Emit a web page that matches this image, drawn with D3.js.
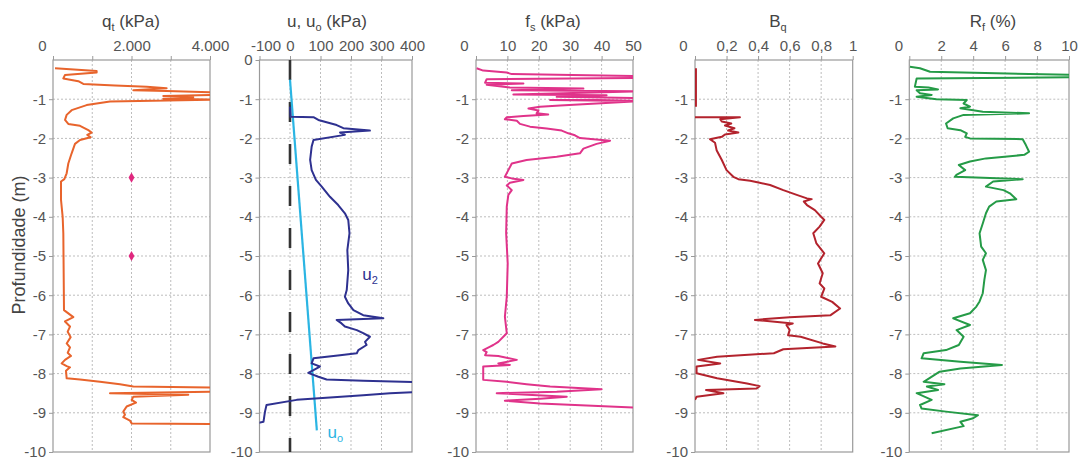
<!DOCTYPE html>
<html>
<head>
<meta charset="utf-8">
<script src="https://cdn.jsdelivr.net/npm/d3@7"></script>
<style>
  body { margin: 0; background: #fff; }
  svg { font-family: "Liberation Sans", Arial, sans-serif; }
</style>
</head>
<body>
<svg id="chart" width="1082" height="462"></svg>
<script>
// profiles as [depth (m), value] pairs
const qt = [
  [-0.21, 51], [-0.28, 1112], [-0.32, 1112], [-0.38, 306], [-0.47, 263], [-0.54, 645], [-0.61, 773],
  [-0.65, 1579], [-0.68, 2386], [-0.72, 2895], [-0.77, 2046], [-0.79, 2895], [-0.83, 4300], [-0.89, 4300],
  [-0.92, 2810], [-0.95, 3574], [-0.99, 2810], [-1.01, 4300], [-1.06, 1452], [-1.15, 857], [-1.28, 475],
  [-1.40, 348], [-1.53, 306], [-1.63, 390], [-1.68, 688], [-1.79, 900], [-1.85, 985], [-1.91, 874],
  [-1.97, 959], [-2.04, 688], [-2.14, 560], [-2.38, 475], [-2.64, 390], [-2.89, 348], [-3.04, 289],
  [-3.10, 204], [-3.57, 204], [-4.00, 246], [-4.42, 263], [-6.38, 280], [-6.56, 518], [-6.67, 306],
  [-6.80, 433], [-6.93, 374], [-7.07, 450], [-7.23, 348], [-7.33, 433], [-7.47, 374], [-7.55, 458],
  [-7.65, 306], [-7.74, 221], [-7.81, 348], [-7.84, 433], [-7.93, 331], [-8.12, 348], [-8.15, 688],
  [-8.21, 1197], [-8.27, 1706], [-8.33, 2046], [-8.36, 4300], [-8.46, 4300], [-8.50, 1452], [-8.54, 3447],
  [-8.59, 2046], [-8.67, 2004], [-8.74, 2114], [-8.84, 1876], [-8.97, 1791], [-9.05, 1834], [-9.11, 1791],
  [-9.20, 1961], [-9.27, 2004], [-9.29, 4300]
];
const qtMarks = [[-3, 2000], [-5, 2000]];

const u2 = [
  [-1.19, 0], [-1.45, 2], [-1.46, 77], [-1.53, 93], [-1.66, 153], [-1.74, 175], [-1.80, 262], [-1.85, 164],
  [-1.91, 180], [-2.04, 77], [-2.21, 71], [-2.55, 66], [-2.81, 71], [-3.06, 85], [-3.23, 104], [-3.49, 131],
  [-3.70, 158], [-3.91, 180], [-4.08, 191], [-4.42, 195], [-4.85, 188], [-5.36, 191], [-5.87, 186],
  [-6.04, 180], [-6.21, 191], [-6.38, 208], [-6.51, 240], [-6.59, 306], [-6.63, 153], [-6.72, 169],
  [-6.80, 180], [-6.89, 219], [-6.97, 240], [-7.06, 262], [-7.19, 246], [-7.27, 251], [-7.40, 224],
  [-7.48, 219], [-7.53, 164], [-7.61, 77], [-7.74, 71], [-7.82, 98], [-7.91, 77], [-7.98, 60], [-8.08, 93],
  [-8.15, 120], [-8.18, 240], [-8.23, 460], [-8.46, 460], [-8.50, 328], [-8.55, 240], [-8.61, 131],
  [-8.67, 22], [-8.80, -77], [-8.97, -82], [-9.23, -87], [-9.27, -110]
];
const u0 = [[-0.5, 0], [-9.45, 88]];
const uZero = [[0, 0], [-10, 0]];

const fs = [
  [-0.21, 0.2], [-0.27, 2.3], [-0.32, 9.8], [-0.36, 11.4], [-0.41, 52], [-0.46, 52], [-0.49, 3.4],
  [-0.58, 2.9], [-0.60, 15.1], [-0.63, 3.4], [-0.70, 10.8], [-0.73, 34.2], [-0.77, 11.4], [-0.80, 52],
  [-0.88, 11.9], [-0.90, 41.6], [-0.94, 25.7], [-0.97, 52], [-1.02, 23.6], [-1.05, 52], [-1.11, 38.4],
  [-1.16, 26.8], [-1.19, 20.4], [-1.24, 16.7], [-1.29, 19.9], [-1.36, 19.3], [-1.39, 23.0], [-1.43, 15.1],
  [-1.46, 9.8], [-1.51, 9.2], [-1.55, 13.0], [-1.63, 14.0], [-1.70, 17.2], [-1.75, 22.5], [-1.80, 27.3],
  [-1.87, 29.4], [-1.92, 31.5], [-1.99, 33.1], [-2.06, 42.7], [-2.14, 38.4], [-2.26, 34.2], [-2.38, 33.1],
  [-2.47, 25.7], [-2.55, 16.1], [-2.64, 11.4], [-2.81, 10.3], [-2.98, 9.2], [-3.02, 11.4], [-3.06, 15.1],
  [-3.13, 10.8], [-3.20, 9.8], [-3.32, 11.4], [-3.44, 10.3], [-3.74, 9.8], [-4.42, 9.6], [-5.19, 10.1],
  [-6.04, 9.8], [-6.55, 9.2], [-6.97, 9.8], [-7.19, 7.1], [-7.27, 5.5], [-7.31, 4.5], [-7.40, 2.3],
  [-7.45, 3.4], [-7.53, 2.9], [-7.55, 7.1], [-7.65, 13.0], [-7.74, 7.1], [-7.78, 10.8], [-7.82, 2.3],
  [-8.16, 2.3], [-8.21, 9.8], [-8.27, 16.1], [-8.33, 23.6], [-8.40, 40.0], [-8.46, 25.7], [-8.50, 6.6],
  [-8.59, 28.9], [-8.64, 20.4], [-8.69, 9.2], [-8.76, 20.4], [-8.87, 52]
];

const bqTop = [[-0.21, 0.006], [-1.19, 0.006]];
const bq = [
  [-1.46, 0.0], [-1.46, 0.285], [-1.51, 0.16], [-1.57, 0.17], [-1.62, 0.23], [-1.67, 0.19], [-1.74, 0.25],
  [-1.80, 0.21], [-1.85, 0.275], [-1.90, 0.19], [-1.96, 0.17], [-2.02, 0.095], [-2.11, 0.127], [-2.30, 0.137],
  [-2.55, 0.17], [-2.81, 0.20], [-2.98, 0.243], [-3.04, 0.275], [-3.08, 0.35], [-3.13, 0.41], [-3.19, 0.476],
  [-3.32, 0.56], [-3.44, 0.645], [-3.53, 0.71], [-3.55, 0.74], [-3.61, 0.69], [-3.70, 0.71], [-3.83, 0.76],
  [-4.00, 0.80], [-4.08, 0.82], [-4.25, 0.79], [-4.42, 0.75], [-4.68, 0.77], [-4.93, 0.82], [-5.19, 0.78],
  [-5.44, 0.81], [-5.70, 0.79], [-5.83, 0.82], [-6.04, 0.80], [-6.17, 0.87], [-6.34, 0.92], [-6.51, 0.86],
  [-6.56, 0.60], [-6.63, 0.38], [-6.72, 0.62], [-6.76, 0.58], [-6.89, 0.60], [-7.02, 0.59], [-7.06, 0.67],
  [-7.23, 0.81], [-7.31, 0.89], [-7.38, 0.56], [-7.48, 0.50], [-7.57, 0.14], [-7.65, 0.02], [-7.74, 0.16],
  [-7.82, 0.01], [-7.99, 0.01], [-8.12, 0.14], [-8.25, 0.33], [-8.32, 0.41], [-8.38, 0.39], [-8.42, 0.07],
  [-8.50, 0.18], [-8.59, 0.01], [-8.67, 0.0]
];

const rf = [
  [-0.17, 0.04], [-0.21, 0.67], [-0.30, 1.3], [-0.38, 10.1], [-0.44, 10.1], [-0.47, 0.46], [-0.68, 0.35],
  [-0.70, 1.2], [-0.75, 1.8], [-0.77, 0.46], [-0.85, 0.67], [-0.89, 1.4], [-0.94, 0.46], [-1.00, 1.7],
  [-1.02, 3.6], [-1.11, 3.4], [-1.19, 3.8], [-1.23, 3.2], [-1.32, 4.6], [-1.36, 7.5], [-1.40, 3.4],
  [-1.49, 2.75], [-1.62, 2.3], [-1.74, 2.4], [-1.79, 3.2], [-1.87, 3.6], [-1.96, 3.5], [-2.00, 3.8],
  [-2.02, 7.1], [-2.17, 7.3], [-2.34, 7.5], [-2.42, 7.2], [-2.51, 4.8], [-2.59, 3.8], [-2.68, 3.1],
  [-2.81, 3.5], [-2.93, 2.95], [-2.98, 2.85], [-3.04, 7.1], [-3.10, 5.25], [-3.23, 4.8], [-3.32, 5.9],
  [-3.40, 6.3], [-3.55, 6.7], [-3.61, 5.45], [-3.74, 5.0], [-3.91, 4.8], [-4.17, 4.6], [-4.42, 4.4],
  [-4.76, 4.5], [-4.93, 4.8], [-5.10, 4.6], [-5.36, 4.8], [-5.61, 4.7], [-5.95, 4.6], [-6.16, 4.4],
  [-6.29, 4.2], [-6.46, 3.8], [-6.59, 2.75], [-6.76, 3.8], [-6.89, 2.96], [-7.06, 3.4], [-7.27, 3.1],
  [-7.40, 2.3], [-7.48, 0.9], [-7.61, 0.77], [-7.70, 3.2], [-7.78, 5.8], [-7.87, 3.2], [-7.95, 1.9],
  [-8.21, 0.9], [-8.27, 2.2], [-8.33, 1.1], [-8.42, 1.8], [-8.50, 0.46], [-8.67, 1.4], [-8.80, 0.67],
  [-8.89, 0.77], [-8.97, 2.3], [-9.06, 4.3], [-9.14, 4.0], [-9.23, 3.2], [-9.34, 3.4], [-9.52, 1.4]
];

// axis ticks and labels
const depthTicks = [0, -1, -2, -3, -4, -5, -6, -7, -8, -9, -10];
const qtTicks = [0, 1000, 2000, 3000, 4000];
const qtLabels = ['0', '', '2.000', '', '4.000'];
const uTicks = [-100, 0, 100, 200, 300, 400];
const uLabels = ['-100', '0', '100', '200', '300', '400'];
const fsTicks = [0, 10, 20, 30, 40, 50];
const fsLabels = ['0', '10', '20', '30', '40', '50'];
const bqTicks = [0, 0.2, 0.4, 0.6, 0.8, 1];
const bqLabels = ['0', '0,2', '0,4', '0,6', '0,8', '1'];
const rfTicks = [0, 2, 4, 6, 8, 10];
const rfLabels = ['0', '2', '4', '6', '8', '10'];

const TOP = 60, BOTTOM = 452;
const svg = d3.select('#chart');
const y = d3.scaleLinear().domain([0, -10]).range([TOP, BOTTOM]);

const panels = [
  { id: 'qt', x0: 53, x1: 210, ticks: qtTicks, labels: qtLabels, title: ['q', 't', ' (kPa)'], tx: 131, firstDx: -11,
    series: [{ data: qt, color: '#e8642c' }] },
  { id: 'u', x0: 259.5, x1: 412, ticks: uTicks, labels: uLabels, title: ['u, u', 'o', ' (kPa)'], tx: 327, firstDx: 6, zero: true,
    series: [{ data: uZero, color: '#333', width: 2.6, dash: '20,22' },
             { data: u0, color: '#2bb5e3', width: 2.2 },
             { data: u2, color: '#2e3190' }] },
  { id: 'fs', x0: 476, x1: 633, ticks: fsTicks, labels: fsLabels, title: ['f', 's', ' (kPa)'], tx: 553, firstDx: -12,
    series: [{ data: fs, color: '#e0338a' }] },
  { id: 'bq', x0: 695, x1: 852.7, ticks: bqTicks, labels: bqLabels, title: ['B', 'q', ''], tx: 778, firstDx: -12,
    series: [{ data: bqTop, color: '#b3232d' }, { data: bq, color: '#b3232d' }] },
  { id: 'rf', x0: 909.3, x1: 1069, ticks: rfTicks, labels: rfLabels, title: ['R', 'f', ' (%)'], tx: 993, firstDx: -11,
    series: [{ data: rf, color: '#259b47' }] }
];

const defs = svg.append('defs');

panels.forEach(p => {
  const x = d3.scaleLinear().domain([p.ticks[0], p.ticks[p.ticks.length - 1]]).range([p.x0, p.x1]);
  const g = svg.append('g');

  // dotted grid
  g.selectAll('.vgrid').data(p.ticks.slice(1, -1)).join('line')
    .attr('x1', d => x(d)).attr('x2', d => x(d)).attr('y1', TOP).attr('y2', BOTTOM)
    .attr('stroke', '#bdbdbd').attr('stroke-width', 1).attr('stroke-dasharray', '2,2');
  g.selectAll('.hgrid').data(depthTicks.slice(1, -1)).join('line')
    .attr('x1', p.x0).attr('x2', p.x1).attr('y1', d => y(d)).attr('y2', d => y(d))
    .attr('stroke', '#bdbdbd').attr('stroke-width', 1).attr('stroke-dasharray', '2,2');

  // frame
  g.append('rect').attr('x', p.x0).attr('y', TOP).attr('width', p.x1 - p.x0).attr('height', BOTTOM - TOP)
    .attr('fill', 'none').attr('stroke', '#9a9a9a').attr('stroke-width', 1.2);

  // top axis
  const ax = g.append('g').attr('transform', `translate(0,${TOP})`)
    .call(d3.axisTop(x).tickValues(p.ticks).tickFormat((d, i) => p.labels[i]).tickSize(4).tickPadding(5));
  ax.select('.domain').remove();
  ax.selectAll('line').attr('stroke', '#9a9a9a');
  ax.selectAll('text').attr('fill', '#555').attr('font-size', 15).attr('font-family', null)
    .attr('dx', (d, i) => i === 0 ? p.firstDx : 0);

  // left axis
  const ay = g.append('g').attr('transform', `translate(${p.x0},0)`)
    .call(d3.axisLeft(y).tickValues(p.zero ? depthTicks : depthTicks.slice(1)).tickFormat(d => String(d)).tickSize(4).tickPadding(3));
  ay.select('.domain').remove();
  ay.selectAll('line').attr('stroke', '#9a9a9a');
  ay.selectAll('text').attr('fill', '#555').attr('font-size', 15).attr('font-family', null);

  // title with subscript
  const t = g.append('text').attr('x', p.tx).attr('y', 27).attr('text-anchor', 'middle')
    .attr('font-size', 17).attr('fill', '#444');
  t.append('tspan').text(p.title[0]);
  t.append('tspan').attr('dy', 4).attr('font-size', 11).text(p.title[1]);
  t.append('tspan').attr('dy', -4).text(p.title[2]);

  // clip and lines
  defs.append('clipPath').attr('id', 'clip-' + p.id)
    .append('rect').attr('x', p.x0).attr('y', TOP).attr('width', p.x1 - p.x0).attr('height', BOTTOM - TOP);
  const line = d3.line().x(d => x(d[1])).y(d => y(d[0]));
  const lg = g.append('g').attr('clip-path', `url(#clip-${p.id})`);
  p.series.forEach(s => {
    lg.append('path').datum(s.data).attr('d', line)
      .attr('fill', 'none').attr('stroke', s.color).attr('stroke-width', s.width || 2)
      .attr('stroke-linejoin', 'round').attr('stroke-dasharray', s.dash || null);
  });

  if (p.id === 'qt') {
    g.selectAll('.mark').data(qtMarks).join('path')
      .attr('transform', d => `translate(${x(d[1])},${y(d[0])})`)
      .attr('d', d3.symbol(d3.symbolDiamond, 30))
      .attr('fill', '#e0287f');
  }
  if (p.id === 'u') {
    const lab = (txt, sub, val, dep, color) => {
      const tt = g.append('text').attr('x', x(val)).attr('y', y(dep)).attr('font-size', 17).attr('fill', color);
      tt.append('tspan').text(txt);
      tt.append('tspan').attr('dy', 4).attr('font-size', 11).text(sub);
    };
    lab('u', '2', 237, -5.6, '#2e3190');
    lab('u', 'o', 123, -9.65, '#2bb5e3');
  }
});

// shared depth label
svg.append('text').attr('transform', 'translate(25,245) rotate(-90)').attr('text-anchor', 'middle')
  .attr('font-size', 18).attr('fill', '#444').text('Profundidade (m)');
</script>
</body>
</html>
